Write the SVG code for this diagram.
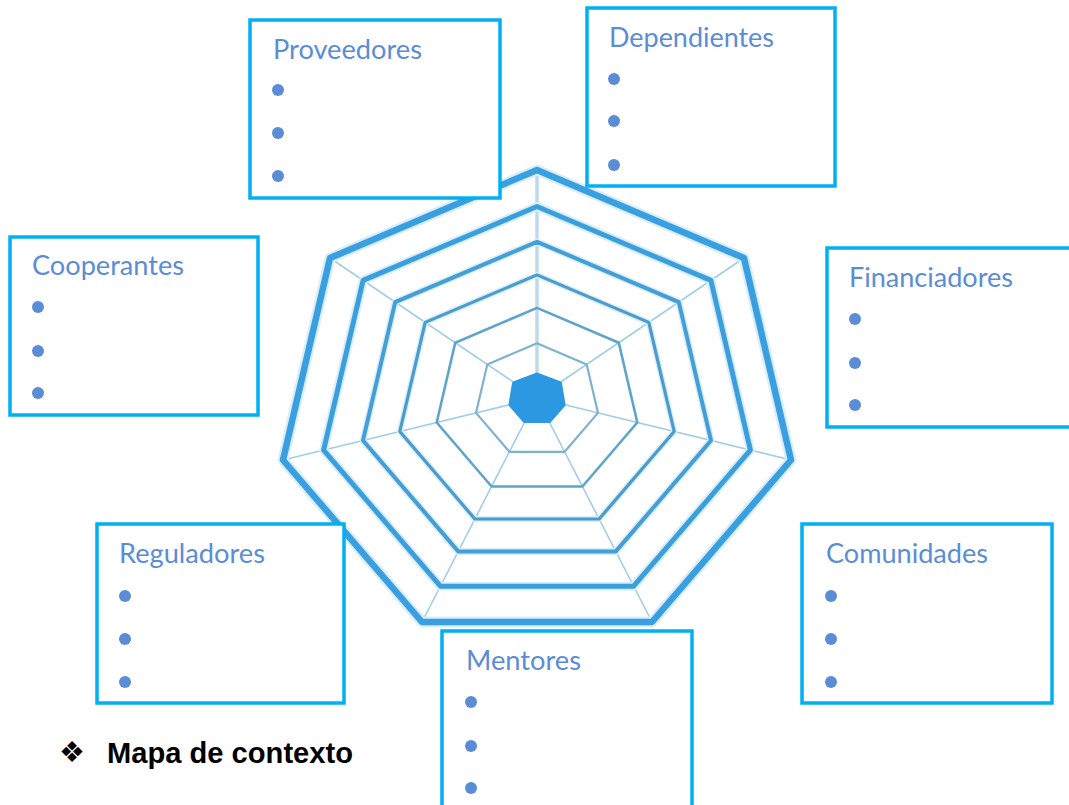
<svg xmlns="http://www.w3.org/2000/svg" width="1069" height="805" viewBox="0 0 1069 805">
<style>
.box{fill:#ffffff;stroke:#00b0f0;stroke-width:3.5}
.ttl{font-family:Lato,"Open Sans","Liberation Sans",sans-serif;font-size:26px;fill:#5b8dd6}
.dot{fill:#5b8dd6}
.halo{fill:none;stroke:#d9eef9;stroke-linejoin:round}
.ring{fill:none;stroke-linejoin:round}
.spoke{stroke:#a3cde6;stroke-width:1.6}
</style>
<rect width="1069" height="805" fill="#ffffff"/>
<g id="web">
  <g id="spokes">
    <line class="spoke" x1="537" y1="398" x2="537" y2="170" style="stroke:#bcdaec;stroke-width:3.5"/>
    <line class="spoke" x1="537" y1="398" x2="744" y2="258"/>
    <line class="spoke" x1="537" y1="398" x2="791" y2="460"/>
    <line class="spoke" x1="537" y1="398" x2="652" y2="622"/>
    <line class="spoke" x1="537" y1="398" x2="422" y2="622"/>
    <line class="spoke" x1="537" y1="398" x2="283" y2="460"/>
    <line class="spoke" x1="537" y1="398" x2="330" y2="258"/>
  </g>
  <g id="halos">
    <polygon class="halo" stroke-width="11" points="537,170 744,258 791,460 652,622 422,622 283,460 330,258"/>
    <polygon class="halo" stroke-width="9" points="537,206.5 710.9,280.4 750.4,450.1 633.6,586.2 440.4,586.2 323.6,450.1 363.1,280.4"/>
    <polygon class="halo" stroke-width="7" points="537,241.8 678.8,302.1 711,440.5 615.8,551.4 458.2,551.4 363,440.5 395.2,302.1"/>
    <polygon class="halo" stroke-width="6" points="537,274.9 648.8,322.4 674.2,431.5 599.1,519 474.9,519 399.8,431.5 425.2,322.4"/>
  </g>
  <g id="rings">
    <polygon class="ring" stroke="#3a9fe0" stroke-width="6.5" points="537,170 744,258 791,460 652,622 422,622 283,460 330,258"/>
    <polygon class="ring" stroke="#3c9fdd" stroke-width="5" points="537,206.5 710.9,280.4 750.4,450.1 633.6,586.2 440.4,586.2 323.6,450.1 363.1,280.4"/>
    <polygon class="ring" stroke="#449fd6" stroke-width="4" points="537,241.8 678.8,302.1 711,440.5 615.8,551.4 458.2,551.4 363,440.5 395.2,302.1"/>
    <polygon class="ring" stroke="#4a9ccc" stroke-width="3.2" points="537,274.9 648.8,322.4 674.2,431.5 599.1,519 474.9,519 399.8,431.5 425.2,322.4"/>
    <polygon class="ring" stroke="#5ea5cc" stroke-width="2.6" points="537,307.9 618.8,342.7 637.3,422.5 582.4,486.5 491.6,486.5 436.7,422.5 455.2,342.7"/>
    <polygon class="ring" stroke="#7db3cf" stroke-width="2.2" points="537,343.3 586.7,364.4 598,412.9 564.6,451.8 509.4,451.8 476,412.9 487.3,364.4"/>
  </g>
  <polygon id="hub" fill="#2c98e2" stroke="#2c98e2" stroke-width="5" stroke-linejoin="round" points="537,375 559.5,383.5 563,404.5 549,420.5 525,420.5 511,404.5 514.5,383.5"/>
</g>
<g id="connectors"></g>
<g id="proveedores">
  <rect class="box" x="250" y="20" width="250" height="178"/>
  <text class="ttl" x="273" y="59" textLength="149" lengthAdjust="spacingAndGlyphs">Proveedores</text>
  <circle class="dot" cx="278" cy="90" r="6"/><circle class="dot" cx="278" cy="133" r="6"/><circle class="dot" cx="278" cy="176" r="6"/>
</g>
<g id="dependientes">
  <rect class="box" x="587" y="8" width="248" height="178"/>
  <text class="ttl" x="609" y="47" textLength="165" lengthAdjust="spacingAndGlyphs">Dependientes</text>
  <circle class="dot" cx="614" cy="79" r="6"/><circle class="dot" cx="614" cy="121" r="6"/><circle class="dot" cx="614" cy="165" r="6"/>
</g>
<g id="cooperantes">
  <rect class="box" x="10" y="237" width="248" height="178"/>
  <text class="ttl" x="32" y="275" textLength="152" lengthAdjust="spacingAndGlyphs">Cooperantes</text>
  <circle class="dot" cx="38" cy="307" r="6"/><circle class="dot" cx="38" cy="351" r="6"/><circle class="dot" cx="38" cy="393" r="6"/>
</g>
<g id="financiadores">
  <rect class="box" x="827" y="248" width="250" height="179"/>
  <text class="ttl" x="849" y="287" textLength="164" lengthAdjust="spacingAndGlyphs">Financiadores</text>
  <circle class="dot" cx="855" cy="319" r="6"/><circle class="dot" cx="855" cy="363" r="6"/><circle class="dot" cx="855" cy="405" r="6"/>
</g>
<g id="reguladores">
  <rect class="box" x="97" y="524" width="247" height="179"/>
  <text class="ttl" x="119" y="563" textLength="146" lengthAdjust="spacingAndGlyphs">Reguladores</text>
  <circle class="dot" cx="125" cy="596" r="6"/><circle class="dot" cx="125" cy="639" r="6"/><circle class="dot" cx="125" cy="682" r="6"/>
</g>
<g id="comunidades">
  <rect class="box" x="802" y="524" width="250" height="179"/>
  <text class="ttl" x="826" y="563" textLength="162" lengthAdjust="spacingAndGlyphs">Comunidades</text>
  <circle class="dot" cx="831" cy="596" r="6"/><circle class="dot" cx="831" cy="639" r="6"/><circle class="dot" cx="831" cy="682" r="6"/>
</g>
<g id="mentores">
  <rect class="box" x="442" y="631" width="250" height="190"/>
  <text class="ttl" x="466" y="670" textLength="115" lengthAdjust="spacingAndGlyphs">Mentores</text>
  <circle class="dot" cx="471" cy="702" r="6"/><circle class="dot" cx="471" cy="746" r="6"/><circle class="dot" cx="471" cy="788" r="6"/>
</g>
<g id="caption">
  <text x="59" y="762" font-family="'DejaVu Sans',sans-serif" font-size="29" fill="#000000">❖</text>
  <text x="107" y="763" font-family="'Liberation Sans',Arial,sans-serif" font-size="29" font-weight="bold" fill="#000000" textLength="246" lengthAdjust="spacingAndGlyphs">Mapa de contexto</text>
</g>
</svg>
